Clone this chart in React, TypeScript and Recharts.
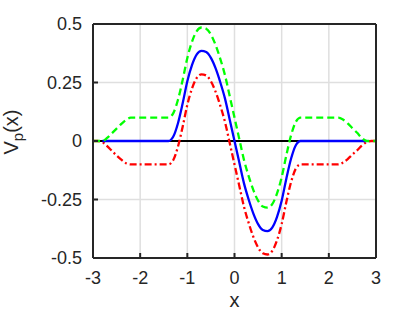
import React from 'react';
import { LineChart, Line, XAxis, YAxis, CartesianGrid, ReferenceLine } from 'recharts';

const xValues = [
  -3.0, -2.9, -2.8, -2.7, -2.6, -2.5, -2.4, -2.3, -2.2, -2.1, -2.0,
  -1.9, -1.8, -1.7, -1.6, -1.5, -1.4, -1.3, -1.2, -1.1, -1.0,
  -0.9, -0.8, -0.7, -0.6, -0.5, -0.4, -0.3, -0.2, -0.1, 0.0,
  0.1, 0.2, 0.3, 0.4, 0.5, 0.6, 0.7, 0.8, 0.9, 1.0,
  1.1, 1.2, 1.3, 1.4, 1.5, 1.6, 1.7, 1.8, 1.9, 2.0,
  2.1, 2.2, 2.3, 2.4, 2.5, 2.6, 2.7, 2.8, 2.9, 3.0,
];

// solid blue curve
const blueValues = [
  null, null, 0, 0, 0, 0, 0, 0, 0, 0, 0,
  0, 0, 0, 0, 0, 0, 0.018, 0.075, 0.16, 0.255,
  0.325, 0.37, 0.385, 0.38, 0.355, 0.31, 0.25, 0.18, 0.09, 0,
  -0.09, -0.18, -0.25, -0.31, -0.355, -0.38, -0.385, -0.37, -0.325, -0.255,
  -0.16, -0.075, -0.018, 0, 0, 0, 0, 0, 0, 0,
  0, 0, 0, 0, 0, 0, 0, 0, null, null,
];

// dashed green curve
const greenValues = [
  0, 0, 0, 0.013, 0.033, 0.053, 0.073, 0.09, 0.1, 0.1, 0.1,
  0.1, 0.1, 0.1, 0.1, 0.1, 0.1, 0.118, 0.175, 0.26, 0.355,
  0.425, 0.47, 0.485, 0.48, 0.455, 0.41, 0.35, 0.28, 0.19, 0.1,
  0.01, -0.08, -0.15, -0.21, -0.255, -0.28, -0.285, -0.27, -0.225, -0.155,
  -0.06, 0.025, 0.082, 0.1, 0.1, 0.1, 0.1, 0.1, 0.1, 0.1,
  0.1, 0.1, 0.092, 0.075, 0.055, 0.035, 0.013, 0, 0, 0,
];

// dash-dot red curve
const redValues = [
  0, 0, -0.005, -0.022, -0.042, -0.062, -0.08, -0.095, -0.1, -0.1, -0.1,
  -0.1, -0.1, -0.1, -0.1, -0.1, -0.1, -0.082, -0.025, 0.06, 0.155,
  0.225, 0.27, 0.285, 0.28, 0.255, 0.21, 0.15, 0.08, -0.01, -0.1,
  -0.19, -0.28, -0.35, -0.41, -0.455, -0.48, -0.485, -0.47, -0.425, -0.355,
  -0.26, -0.175, -0.118, -0.1, -0.1, -0.1, -0.1, -0.1, -0.1, -0.1,
  -0.1, -0.1, -0.092, -0.077, -0.058, -0.04, -0.02, -0.005, 0, 0,
];

const xTicks = [-3, -2, -1, 0, 1, 2, 3];
const yTicks = [-0.5, -0.25, 0, 0.25, 0.5];

const data = xValues.map((x, i) => ({
  x,
  blue: blueValues[i],
  green: greenValues[i],
  red: redValues[i],
}));

const FONT = '"Liberation Sans", Arial, Helvetica, sans-serif';
const INK = '#262626';

const LeftTick = (props: any) => {
  const { x, y, payload } = props;
  return (
    <g>
      <text x={x} y={y} dy="0.355em" textAnchor="end" fontSize={18} fill={INK} fontFamily={FONT}>
        {payload.value}
      </text>
      <line x1={x + 11} x2={x + 16} y1={y} y2={y} stroke={INK} strokeWidth={2} />
    </g>
  );
};

const BottomTick = (props: any) => {
  const { x, y, payload } = props;
  return (
    <g>
      <text x={x} y={y} dy="0.71em" textAnchor="middle" fontSize={18} fill={INK} fontFamily={FONT}>
        {payload.value}
      </text>
      <line x1={x} x2={x} y1={y - 13} y2={y - 18} stroke={INK} strokeWidth={2} />
    </g>
  );
};

const XLabel = (props: any) => {
  const vb = props.viewBox;
  return (
    <text x={vb.x + vb.width / 2} y={vb.y + 49} textAnchor="middle" fontSize={20} fill={INK} fontFamily={FONT}>
      x
    </text>
  );
};

const YLabel = (props: any) => {
  const vb = props.viewBox;
  const cx = vb.x + 18;
  const cy = vb.y + vb.height / 2 - 9;
  return (
    <text
      x={cx}
      y={cy}
      transform={`rotate(-90, ${cx}, ${cy})`}
      textAnchor="middle"
      fontSize={20}
      fill={INK}
      fontFamily={FONT}
    >
      V<tspan fontSize={15} dy={5}>p</tspan>
      <tspan dy={-5}>(x)</tspan>
    </text>
  );
};

export default function App() {
  return (
    <div style={{ position: 'absolute', left: 0, top: 0, background: '#fff' }}>
      <LineChart width={415} height={312} data={data} margin={{ top: 24, right: 39, left: 0, bottom: 0 }}>
        <CartesianGrid stroke="#dfdfdf" strokeWidth={1.5} />
        <XAxis
          dataKey="x"
          type="number"
          domain={[-3, 3]}
          ticks={xTicks}
          interval={0}
          height={54}
          tickSize={0}
          tickMargin={13}
          tick={<BottomTick />}
          axisLine={{ stroke: INK, strokeWidth: 2 }}
          label={<XLabel />}
        />
        <YAxis
          type="number"
          domain={[-0.5, 0.5]}
          ticks={yTicks}
          interval={0}
          width={93}
          tickSize={0}
          tickMargin={11}
          tick={<LeftTick />}
          axisLine={{ stroke: INK, strokeWidth: 2 }}
          label={<YLabel />}
        />
        <ReferenceLine y={0} stroke="#000" strokeWidth={2} />
        <Line dataKey="red" type="monotone" stroke="#ff0000" strokeWidth={2.3} strokeDasharray="7 3 2 3" dot={false} isAnimationActive={false} />
        <Line dataKey="blue" type="monotone" stroke="#0000ff" strokeWidth={2.3} dot={false} isAnimationActive={false} connectNulls={false} />
        <Line dataKey="green" type="monotone" stroke="#00ff00" strokeWidth={2.3} strokeDasharray="7 4" dot={false} isAnimationActive={false} />
        {/* box edges: top and right */}
        <ReferenceLine y={0.5} stroke={INK} strokeWidth={2} />
        <ReferenceLine x={3} stroke={INK} strokeWidth={2} />
      </LineChart>
    </div>
  );
}
